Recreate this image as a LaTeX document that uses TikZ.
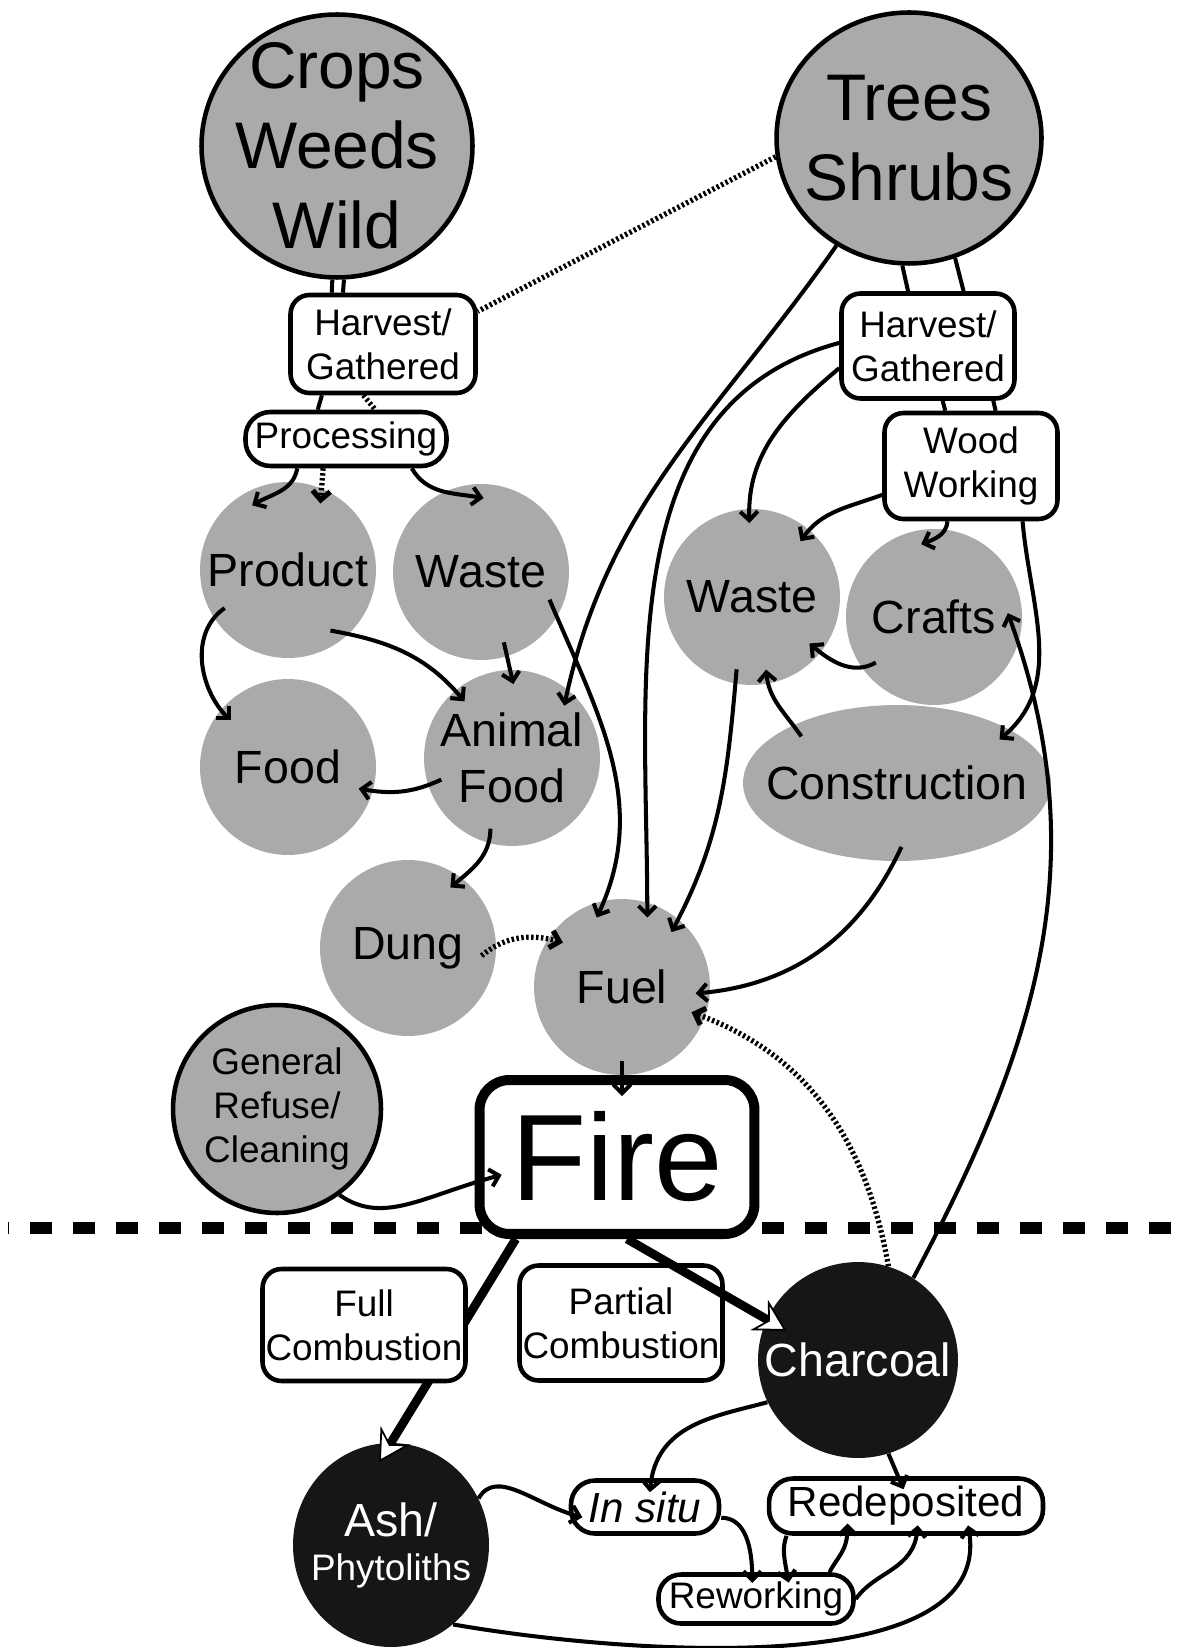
\documentclass[tikz,border=0pt]{standalone}
\usepackage{fontspec}
\setmainfont{Liberation Sans}
\usepackage{tikz}
\usetikzlibrary{
  arrows.meta,
  shapes.geometric,
  positioning
}
\definecolor{xgray}{RGB}{170,170,170}
\definecolor{xink}{RGB}{22,22,22}

\newcommand{\hugesz}{\fontsize{37.5}{45.5}\selectfont}
\newcommand{\bigsz}{\fontsize{26.5}{31.5}\selectfont}
\newcommand{\midsz}{\fontsize{24}{28}\selectfont}
\newcommand{\smallsz}{\fontsize{21}{25}\selectfont}
\newcommand{\firesz}{\fontsize{70}{80}\selectfont}

\begin{document}
\begin{tikzpicture}[
  x=0.02cm, y=0.02cm,
  source/.style={ellipse, draw, line width=2.6pt, fill=xgray, inner xsep=-0.4cm, inner ysep=-0.4cm, align=center},
  blob/.style={circle, fill=xgray, minimum size=3.52cm, inner sep=0pt, outer sep=-8pt,
               font=\bigsz, align=center},
  residue/.style={ellipse, fill=xink, text=white, inner xsep=-0.6cm, inner ysep=-0.3cm, align=center},
  box/.style={draw, line width=2.6pt, fill=white, rounded corners=#1, inner sep=0pt,
              align=center, font=\smallsz},
  box/.default=0.38cm,
  link/.style={line width=2.3pt},
  dotlink/.style={line width=3pt, dash pattern=on 1.4pt off 1.4pt},
  arr/.style={link, -{Straight Barb[length=5pt,width=10pt]}},
  dotarr/.style={dotlink, -{Straight Barb[length=5pt,width=10pt]}},
  burn/.style={line width=5pt, shorten >=-13pt,
               -{Stealth[length=18pt,width=20pt,inset=6pt,fill=white,line width=1pt]}},
  divider/.style={line width=6.3pt, dash pattern=on 12.5pt off 12pt, dash phase=12pt}
]
  \useasboundingbox (0,0) rectangle (1187,-1648);

  % before / after burning
  \coordinate (divL) at (8,-1228);
  \coordinate (divR) at (1187,-1228);
  \draw[divider] (divL) -- (divR);

  % plant sources
  \node[source, minimum width=5.42cm, minimum height=5.26cm, font=\hugesz] (crops) at (337,-146) {Crops\\Weeds\\Wild};
  \node[source, minimum width=5.3cm, minimum height=5.02cm, font=\hugesz] (trees) at (909,-138) {Trees\\Shrubs};
  \node[box, minimum width=3.7cm, minimum height=1.96cm] (harvA) at (383,-344) {Harvest/\\Gathered};
  \node[box=0.5cm, minimum width=4.02cm, minimum height=1.08cm] (proc) at (346,-439) {Processing};
  \node[box, minimum width=3.46cm, minimum height=2.1cm] (harvB) at (928,-346) {Harvest/\\Gathered};
  \node[box, minimum width=3.46cm, minimum height=2.12cm] (wood) at (971,-466) {Wood\\Working};

  % uses
  \node[blob] (product) at (288,-570) {Product};
  \node[blob] (wasteA)  at (481,-572) {Waste};
  \node[blob] (food)    at (288,-767) {Food};
  \node[blob] (animal)  at (512,-758) {Animal\\Food};
  \node[blob] (dung)    at (408,-948) {Dung};
  \node[blob] (fuel)    at (622,-987) {Fuel};
  \node[blob] (wasteB)  at (752,-597) {Waste};
  \node[blob] (crafts)  at (934,-617) {Crafts};
  \node[blob, ellipse, inner xsep=-0.6cm, minimum width=6.16cm, minimum height=3.12cm] (construction) at (897,-783) {Construction};
  \node[source, inner xsep=0pt, inner ysep=0pt, minimum width=4.16cm, minimum height=4.16cm, font=\smallsz] (refuse) at (277,-1109) {General\\Refuse/\\Cleaning};

  % fire and residues
  \node[box=0.6cm, line width=5.7pt, minimum width=5.5cm, minimum height=3.08cm, font=\firesz] (fire) at (617,-1157) {Fire};
  \node[box, minimum width=4.06cm, minimum height=2.3cm] (partial) at (621,-1323) {Partial\\Combustion};
  \node[residue, minimum width=4cm, minimum height=3.92cm, font=\bigsz] (charcoal) at (858,-1360) {Charcoal};
  \node[residue, minimum width=3.92cm, minimum height=4.08cm, font=\smallsz] (ash) at (391,-1545) {{\bigsz Ash/}\\Phytoliths};
  \node[box=0.48cm, minimum width=2.96cm, minimum height=1.06cm, font=\midsz\itshape] (insitu) at (645,-1507) {In situ};
  \node[box=0.48cm, minimum width=5.48cm, minimum height=1.1cm, font=\midsz] (redep) at (906,-1506) {Redeposited};
  \node[box=0.45cm, minimum width=3.9cm, minimum height=0.98cm] (rework) at (756,-1599) {Reworking};

  % full combustion runs behind its label
  \draw[burn] (fire.-141) -- (ash.90);
  \node[box, minimum width=4.06cm, minimum height=2.24cm] (full) at (364,-1325) {Full\\Combustion};
  \draw[burn] (fire.-83) -- (charcoal.156);

  % harvesting
  \draw[link] (crops.-92.5) -- (harvA.135);
  \draw[link] (crops.-87.5) -- (harvA.128);
  \draw[dotlink] (trees.188) -- (harvA.19);
  \draw[link] (trees.-93) -- (harvB.110);
  \draw[link] (trees.-69) -- (harvB.57);
  \draw[link] (harvA.-140) -- (proc.134);
  \draw[dotlink] (harvA.-111) -- (proc.45);
  \draw[link] (harvB.-75) -- (wood.115);
  \draw[link] (harvB.-40) -- (wood.66);

  % crop pathways
  \draw[arr] (proc.-149) to[out=-100,in=30] (product.119);
  \draw[dotarr] (proc.-128) -- (product.64);
  \draw[arr] (proc.-24) to[out=-60,in=170] (wasteA.88);
  \draw[arr] (product.-149) to[out=215,in=135] (food.141);
  \draw[arr] (product.-55) to[out=-10,in=130] (animal.130);
  \draw[arr] (wasteA.-72) -- (animal.89);
  \draw[arr] (animal.197) to[out=205,in=-10] (food.-17);
  \draw[arr] (animal.-107) to[out=-90,in=40] (dung.55);
  \draw[dotarr] (dung.-6) to[out=40,in=165] (fuel.143);
  \draw[arr] (wasteA.-22) to[out=-67,in=65] (fuel.110);

  % wood pathways
  \draw[arr] (trees.-124) to[out=-125,in=78] (animal.45);
  \draw[arr] (harvB.178) to[out=195,in=90] (fuel.70);
  \draw[arr] (harvB.-166) to[out=220,in=92] (wasteB.92);
  \draw[arr] (wood.-162) to[out=200,in=55] (wasteB.49);
  \draw[arr] (wood.-113) to[out=-95,in=20] (crafts.100);
  \draw[arr] (wood.-47) to[out=-85,in=40] (construction.23);
  \draw[arr] (crafts.-142) to[out=210,in=-40] (wasteB.-39);
  \draw[arr] (construction.154) to[out=125,in=-85] (wasteB.-79);
  \draw[arr] (wasteB.-102) to[out=-95,in=62] (fuel.48);
  \draw[arr] (construction.-86) to[out=-115,in=5] (fuel.-5);
  \draw[arr] (charcoal.56) to[out=62,in=-70] (crafts.3);
  \draw[dotarr] (charcoal.72) to[out=100,in=-20] (fuel.-20);

  % burning
  \draw[arr, shorten >=-12pt] (fuel.-90) -- (fuel.-90 |- fire.north);
  \draw[arr, shorten >=-16pt] (refuse.-54) to[out=-35,in=195] (fire.-170);

  % deposition
  \draw[arr, shorten >=-8pt] (charcoal.205) to[out=195,in=85] (insitu.78);
  \draw[arr, shorten >=-8pt] (charcoal.-72) -- (redep.105);
  \draw[arr, shorten >=-8pt] (ash.28) to[out=60,in=165] (insitu.185);
  \draw[arr, shorten >=-6pt] (insitu.-8) to[out=0,in=90] (rework.98);
  \draw[arr, shorten >=-6pt] (redep.-166) to[out=-110,in=100] (rework.41);
  \draw[arr, shorten >=-7pt] (rework.20) to[out=65,in=-90] (redep.-153);
  \draw[arr, shorten >=-6pt] (rework.east) to[out=55,in=-95] (redep.-70);
  \draw[arr, shorten >=-6pt] (ash.-52) to[out=-10,in=-80,looseness=0.75] (redep.-25);
\end{tikzpicture}
\end{document}
